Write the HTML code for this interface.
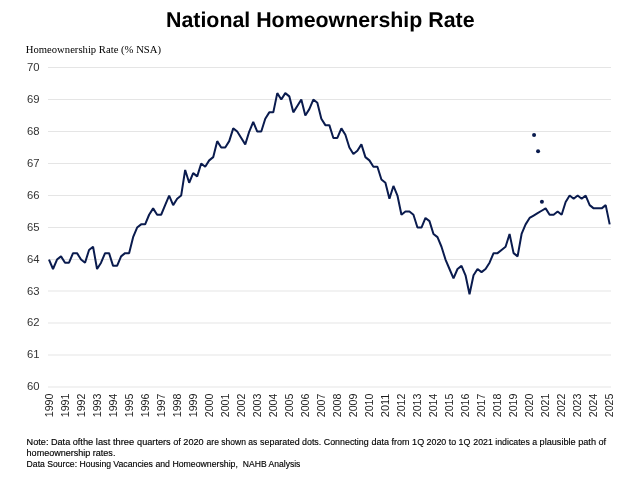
<!DOCTYPE html>
<html><head><meta charset="utf-8"><title>National Homeownership Rate</title>
<style>
html,body{margin:0;padding:0;background:#fff;}
body{width:640px;height:480px;overflow:hidden;}
svg{display:block;}
.title{font-family:"Liberation Sans",Arial,sans-serif;font-weight:bold;font-size:21.37px;fill:#000;text-rendering:geometricPrecision;}
.sub{font-family:"Liberation Serif","Times New Roman",serif;font-size:10.67px;fill:#000;}
.yl text{font-family:"Liberation Sans",Arial,sans-serif;font-size:11.3px;fill:#333;text-anchor:end;}
.xl text{font-family:"Liberation Sans",Arial,sans-serif;font-size:11.6px;fill:#1c1c1c;text-anchor:end;}
.grid line{stroke:#e5e5e5;stroke-width:1;}
.note text{font-family:"Liberation Sans",Arial,sans-serif;font-size:9.5px;fill:#000;stroke:#000;stroke-width:0.15px;}
</style></head><body>
<svg width="640" height="480" viewBox="0 0 640 480">
<rect width="640" height="480" fill="#fff"/>
<text class="title" x="166.0" y="26.65">National Homeownership Rate</text>
<text class="sub" x="25.75" y="52.5">Homeownership Rate (% NSA)</text>
<g class="grid"><line x1="48" x2="611" y1="387.0" y2="387.0"/><line x1="48" x2="611" y1="355.0" y2="355.0"/><line x1="48" x2="611" y1="323.0" y2="323.0"/><line x1="48" x2="611" y1="291.0" y2="291.0"/><line x1="48" x2="611" y1="259.5" y2="259.5"/><line x1="48" x2="611" y1="227.5" y2="227.5"/><line x1="48" x2="611" y1="195.5" y2="195.5"/><line x1="48" x2="611" y1="163.5" y2="163.5"/><line x1="48" x2="611" y1="131.5" y2="131.5"/><line x1="48" x2="611" y1="99.5" y2="99.5"/><line x1="48" x2="611" y1="67.5" y2="67.5"/></g>
<g class="yl"><text x="39.55" y="390.3">60</text><text x="39.55" y="358.3">61</text><text x="39.55" y="326.3">62</text><text x="39.55" y="295.0">63</text><text x="39.55" y="262.8">64</text><text x="39.55" y="230.8">65</text><text x="39.55" y="198.8">66</text><text x="39.55" y="166.8">67</text><text x="39.55" y="134.8">68</text><text x="39.55" y="102.8">69</text><text x="39.55" y="70.8">70</text></g>
<g class="xl"><text transform="translate(52.70,393.6) rotate(-90)" textLength="23.6" lengthAdjust="spacingAndGlyphs">1990</text><text transform="translate(68.72,393.6) rotate(-90)" textLength="23.6" lengthAdjust="spacingAndGlyphs">1991</text><text transform="translate(84.74,393.6) rotate(-90)" textLength="23.6" lengthAdjust="spacingAndGlyphs">1992</text><text transform="translate(100.76,393.6) rotate(-90)" textLength="23.6" lengthAdjust="spacingAndGlyphs">1993</text><text transform="translate(116.78,393.6) rotate(-90)" textLength="23.6" lengthAdjust="spacingAndGlyphs">1994</text><text transform="translate(132.80,393.6) rotate(-90)" textLength="23.6" lengthAdjust="spacingAndGlyphs">1995</text><text transform="translate(148.82,393.6) rotate(-90)" textLength="23.6" lengthAdjust="spacingAndGlyphs">1996</text><text transform="translate(164.84,393.6) rotate(-90)" textLength="23.6" lengthAdjust="spacingAndGlyphs">1997</text><text transform="translate(180.86,393.6) rotate(-90)" textLength="23.6" lengthAdjust="spacingAndGlyphs">1998</text><text transform="translate(196.88,393.6) rotate(-90)" textLength="23.6" lengthAdjust="spacingAndGlyphs">1999</text><text transform="translate(212.90,393.6) rotate(-90)" textLength="23.6" lengthAdjust="spacingAndGlyphs">2000</text><text transform="translate(228.92,393.6) rotate(-90)" textLength="23.6" lengthAdjust="spacingAndGlyphs">2001</text><text transform="translate(244.94,393.6) rotate(-90)" textLength="23.6" lengthAdjust="spacingAndGlyphs">2002</text><text transform="translate(260.96,393.6) rotate(-90)" textLength="23.6" lengthAdjust="spacingAndGlyphs">2003</text><text transform="translate(276.98,393.6) rotate(-90)" textLength="23.6" lengthAdjust="spacingAndGlyphs">2004</text><text transform="translate(293.00,393.6) rotate(-90)" textLength="23.6" lengthAdjust="spacingAndGlyphs">2005</text><text transform="translate(309.02,393.6) rotate(-90)" textLength="23.6" lengthAdjust="spacingAndGlyphs">2006</text><text transform="translate(325.04,393.6) rotate(-90)" textLength="23.6" lengthAdjust="spacingAndGlyphs">2007</text><text transform="translate(341.06,393.6) rotate(-90)" textLength="23.6" lengthAdjust="spacingAndGlyphs">2008</text><text transform="translate(357.08,393.6) rotate(-90)" textLength="23.6" lengthAdjust="spacingAndGlyphs">2009</text><text transform="translate(373.10,393.6) rotate(-90)" textLength="23.6" lengthAdjust="spacingAndGlyphs">2010</text><text transform="translate(389.12,393.6) rotate(-90)" textLength="23.6" lengthAdjust="spacingAndGlyphs">2011</text><text transform="translate(405.14,393.6) rotate(-90)" textLength="23.6" lengthAdjust="spacingAndGlyphs">2012</text><text transform="translate(421.16,393.6) rotate(-90)" textLength="23.6" lengthAdjust="spacingAndGlyphs">2013</text><text transform="translate(437.18,393.6) rotate(-90)" textLength="23.6" lengthAdjust="spacingAndGlyphs">2014</text><text transform="translate(453.20,393.6) rotate(-90)" textLength="23.6" lengthAdjust="spacingAndGlyphs">2015</text><text transform="translate(469.22,393.6) rotate(-90)" textLength="23.6" lengthAdjust="spacingAndGlyphs">2016</text><text transform="translate(485.24,393.6) rotate(-90)" textLength="23.6" lengthAdjust="spacingAndGlyphs">2017</text><text transform="translate(501.26,393.6) rotate(-90)" textLength="23.6" lengthAdjust="spacingAndGlyphs">2018</text><text transform="translate(517.28,393.6) rotate(-90)" textLength="23.6" lengthAdjust="spacingAndGlyphs">2019</text><text transform="translate(533.30,393.6) rotate(-90)" textLength="23.6" lengthAdjust="spacingAndGlyphs">2020</text><text transform="translate(549.32,393.6) rotate(-90)" textLength="23.6" lengthAdjust="spacingAndGlyphs">2021</text><text transform="translate(565.34,393.6) rotate(-90)" textLength="23.6" lengthAdjust="spacingAndGlyphs">2022</text><text transform="translate(581.36,393.6) rotate(-90)" textLength="23.6" lengthAdjust="spacingAndGlyphs">2023</text><text transform="translate(597.38,393.6) rotate(-90)" textLength="23.6" lengthAdjust="spacingAndGlyphs">2024</text><text transform="translate(613.40,393.6) rotate(-90)" textLength="23.6" lengthAdjust="spacingAndGlyphs">2025</text></g>
<polyline fill="none" stroke="#0a1b4e" stroke-width="2.0" stroke-linejoin="bevel" stroke-linecap="butt" points="49.00,259.55 53.01,269.00 57.01,259.55 61.02,256.35 65.02,262.70 69.03,262.70 73.03,253.15 77.03,253.15 81.04,259.55 85.05,262.70 89.05,249.95 93.06,246.75 97.06,269.00 101.06,262.70 105.07,253.15 109.07,253.15 113.08,265.85 117.08,265.85 121.09,256.35 125.09,253.15 129.10,253.15 133.11,237.15 137.11,227.55 141.12,224.35 145.12,224.35 149.12,214.75 153.13,208.35 157.13,214.75 161.14,214.75 165.14,205.15 169.15,195.55 173.16,205.15 177.16,198.75 181.16,195.55 185.17,169.95 189.17,182.75 193.18,173.15 197.19,176.35 201.19,163.55 205.19,166.75 209.20,160.35 213.20,157.15 217.21,141.15 221.22,147.55 225.22,147.55 229.22,141.15 233.23,128.35 237.23,131.55 241.24,137.95 245.25,144.35 249.25,131.55 253.25,121.95 257.26,131.55 261.26,131.55 265.27,118.75 269.27,112.35 273.28,112.35 277.28,93.15 281.29,99.55 285.29,93.15 289.30,96.35 293.31,112.35 297.31,105.95 301.31,99.55 305.32,115.55 309.32,109.15 313.33,99.55 317.33,102.75 321.34,118.75 325.34,125.15 329.35,125.15 333.36,137.95 337.36,137.95 341.37,128.35 345.37,134.75 349.38,147.55 353.38,153.95 357.38,150.75 361.39,144.35 365.39,157.15 369.40,160.35 373.40,166.75 377.41,166.75 381.41,179.55 385.42,182.75 389.43,198.75 393.43,185.95 397.44,195.55 401.44,214.75 405.44,211.55 409.45,211.55 413.45,214.75 417.46,227.55 421.46,227.55 425.47,217.95 429.47,221.15 433.48,233.95 437.49,237.15 441.49,246.75 445.50,259.55 449.50,269.00 453.50,278.45 457.51,269.00 461.51,265.85 465.52,275.30 469.52,294.25 473.53,275.30 477.53,269.00 481.54,272.15 485.55,269.00 489.55,262.70 493.56,253.15 497.56,253.15 501.56,249.95 505.57,246.75 509.57,233.95 513.58,253.15 517.59,256.35 521.59,233.95 525.60,224.35 529.60,217.95 533.61,215.55 537.61,213.15 541.62,210.75 545.62,208.35 549.62,214.75 553.63,214.75 557.63,211.55 561.64,214.75 565.64,201.95 569.65,195.55 573.65,198.75 577.66,195.55 581.66,198.75 585.67,195.55 589.67,205.15 593.68,208.35 597.68,208.35 601.69,208.35 605.69,205.15 609.70,224.35"/>
<g fill="#0a1b4e"><circle cx="534.06" cy="134.95" r="2.0"/><circle cx="538.06" cy="151.35" r="2.0"/><circle cx="541.91" cy="201.75" r="2.0"/></g>
<g class="note">
<text y="444.6"><tspan x="26.60" textLength="53.80" lengthAdjust="spacingAndGlyphs">Note: Data of</tspan> <tspan x="80.35" textLength="53.80" lengthAdjust="spacingAndGlyphs">the last three</tspan> <tspan x="137.10" textLength="66.55" lengthAdjust="spacingAndGlyphs">quarters of 2020</tspan> <tspan x="206.60" textLength="50.80" lengthAdjust="spacingAndGlyphs">are shown as</tspan> <tspan x="260.10" textLength="108.55" lengthAdjust="spacingAndGlyphs">separated dots. Connecting</tspan> <tspan x="371.60" textLength="52.55" lengthAdjust="spacingAndGlyphs">data from 1Q</tspan> <tspan x="426.60" textLength="43.80" lengthAdjust="spacingAndGlyphs">2020 to 1Q</tspan> <tspan x="473.35" textLength="63.80" lengthAdjust="spacingAndGlyphs">2021 indicates a</tspan> <tspan x="539.60" textLength="66.55" lengthAdjust="spacingAndGlyphs">plausible path of</tspan></text>
<text y="455.85"><tspan x="26.60" textLength="88.80" lengthAdjust="spacingAndGlyphs">homeownership rates.</tspan></text>
<text y="467.1"><tspan x="26.60" textLength="84.55" lengthAdjust="spacingAndGlyphs">Data Source: Housing</tspan> <tspan x="113.35" textLength="124.55" lengthAdjust="spacingAndGlyphs">Vacancies and Homeownership,</tspan> <tspan x="242.85" textLength="57.55" lengthAdjust="spacingAndGlyphs">NAHB Analysis</tspan></text>
</g>
</svg>
</body></html>
